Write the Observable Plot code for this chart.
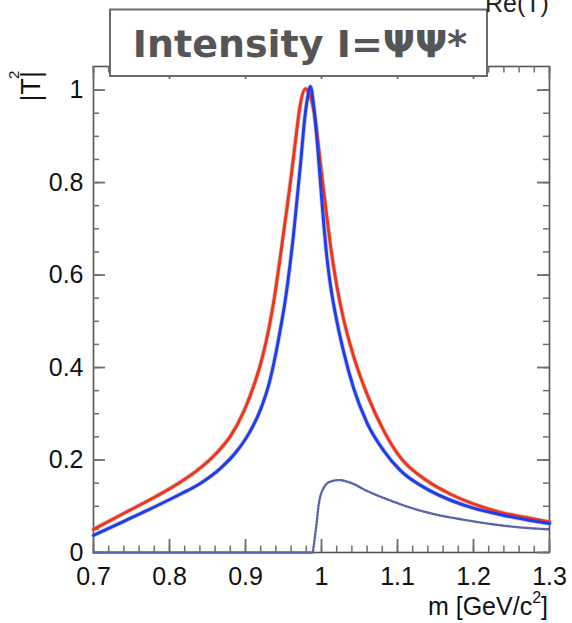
<!DOCTYPE html>
<html>
<head>
<meta charset="utf-8">
<script src="https://cdn.jsdelivr.net/npm/d3@7"></script>
<script src="https://cdn.jsdelivr.net/npm/@observablehq/plot@0.6"></script>
<style>
  html, body { margin: 0; padding: 0; background: white; overflow: hidden; }
  #chart { position: relative; width: 572px; height: 623px; }
</style>
</head>
<body>
<div id="chart"></div>
<script>
// Red curve |T|^2 (m in GeV/c^2)
const redM = [0.700, 0.742, 0.782, 0.814, 0.836, 0.863, 0.880, 0.898, 0.911, 0.922, 0.931, 0.937, 0.950, 0.961, 0.967, 0.972, 0.979, 0.983, 0.990, 0.9987, 1.0066, 1.013, 1.020, 1.029, 1.0425, 1.060, 1.082, 1.104, 1.139, 1.170, 1.200, 1.236, 1.271, 1.300];
const redV = [0.050, 0.0865, 0.121, 0.152, 0.177, 0.217, 0.251, 0.306, 0.361, 0.421, 0.486, 0.541, 0.690, 0.825, 0.907, 0.968, 1.003, 0.995, 0.955, 0.840, 0.732, 0.650, 0.578, 0.505, 0.423, 0.342, 0.263, 0.205, 0.155, 0.126, 0.105, 0.0865, 0.0750, 0.066];

// Blue curve
const blueM = [0.700, 0.742, 0.782, 0.814, 0.841, 0.867, 0.889, 0.904, 0.920, 0.931, 0.9395, 0.946, 0.952, 0.9636, 0.9724, 0.978, 0.981, 0.9855, 0.990, 0.995, 1.0017, 1.0065, 1.0118, 1.0206, 1.029, 1.0425, 1.060, 1.082, 1.104, 1.139, 1.170, 1.200, 1.236, 1.271, 1.300];
const blueV = [0.037, 0.069, 0.100, 0.126, 0.150, 0.182, 0.220, 0.256, 0.310, 0.365, 0.427, 0.484, 0.542, 0.694, 0.840, 0.940, 0.977, 1.008, 0.962, 0.876, 0.735, 0.648, 0.578, 0.497, 0.435, 0.354, 0.280, 0.220, 0.177, 0.137, 0.113, 0.096, 0.0815, 0.0705, 0.0625];

// Dotted curve (above KK threshold)
const dotM = [0.700, 0.9885, 0.9895, 0.9934, 0.9965, 1.003, 1.0118, 1.0228, 1.038, 1.060, 1.0865, 1.117, 1.148, 1.183, 1.218, 1.253, 1.300];
const dotV = [0.000, 0.000, 0.011, 0.061, 0.105, 0.140, 0.1535, 0.1565, 0.151, 0.133, 0.115, 0.097, 0.083, 0.072, 0.0627, 0.0556, 0.050];

// Tick labels
const xTicks = [0.7, 0.8, 0.9, 1.0, 1.1, 1.2, 1.3];
const yTicks = [0, 0.2, 0.4, 0.6, 0.8, 1.0];

const red = redM.map((m, i) => ({m, v: redV[i]}));
const blue = blueM.map((m, i) => ({m, v: blueV[i]}));
const dots = dotM.map((m, i) => ({m, v: dotV[i]}));

const xMinor = d3.range(0, 31).map(i => 0.7 + i * 0.02);
const yMinor = d3.range(0, 21).map(i => i * 0.05);

const W = 572, H = 623, ML = 93, MR = 23, MT = 66, MB = 71;
const X0 = 0.7, X1 = 1.3, Y0 = 0, Y1 = 1.051;
// tick lengths (pixels) converted to data units, so ticks point into the frame
const ux = (X1 - X0) / (W - ML - MR), uy = (Y1 - Y0) / (H - MT - MB);
const tickColor = "#6e6e6e";
const fmt = d => String(+(+d).toFixed(2));

const tickMarks = [];
for (const [vals, len, sw] of [[xMinor, 6.5, 1.5], [xTicks, 13, 1.8]]) {
  tickMarks.push(Plot.ruleX(vals, {x: d => d, y1: Y0, y2: Y0 + len * uy, stroke: tickColor, strokeWidth: sw}));
  tickMarks.push(Plot.ruleX(vals, {x: d => d, y1: Y1 - len * uy, y2: Y1, stroke: tickColor, strokeWidth: sw}));
}
for (const [vals, len, sw] of [[yMinor, 6, 1.5], [yTicks, 12, 1.8]]) {
  tickMarks.push(Plot.ruleY(vals, {y: d => d, x1: X0, x2: X0 + len * ux, stroke: tickColor, strokeWidth: sw}));
  tickMarks.push(Plot.ruleY(vals, {y: d => d, x1: X1 - len * ux, x2: X1, stroke: tickColor, strokeWidth: sw}));
}

const chart = Plot.plot({
  width: W,
  height: H,
  marginLeft: ML,
  marginRight: MR,
  marginTop: MT,
  marginBottom: MB,
  style: {fontFamily: "'Liberation Sans', Arial, sans-serif", fontSize: "25px", color: "#111", background: "white"},
  x: {domain: [X0, X1]},
  y: {domain: [Y0, Y1]},
  marks: [
    Plot.frame({stroke: "#555", strokeWidth: 1.6}),
    ...tickMarks,
    // curves
    Plot.lineY(red, {x: "m", y: "v", stroke: "#a8a8a8", strokeWidth: 4.6, strokeOpacity: 0.55, curve: "monotone-x"}),
    Plot.lineY(blue, {x: "m", y: "v", stroke: "#a8a8a8", strokeWidth: 4.6, strokeOpacity: 0.55, curve: "monotone-x"}),
    Plot.lineY(red, {x: "m", y: "v", stroke: "#f2341b", strokeWidth: 3, curve: "monotone-x"}),
    Plot.lineY(blue, {x: "m", y: "v", stroke: "#1e3cf0", strokeWidth: 3, curve: "monotone-x"}),
    Plot.lineY(dots, {x: "m", y: "v", stroke: "#5865a8", strokeWidth: 2.4, strokeDasharray: "1.6 1.6", curve: "monotone-x"}),
    // tick labels
    Plot.axisX(xTicks, {anchor: "bottom", tickSize: 0, tickPadding: 15, tickFormat: fmt, label: null, fill: "#111"}),
    Plot.axisY(yTicks, {anchor: "left", tickSize: 0, tickPadding: 10, tickFormat: fmt, label: null, fill: "#111"})
  ]
});

document.getElementById("chart").appendChild(chart);

const svg = d3.select(chart);
const sans = "'Liberation Sans', Arial, sans-serif";
// Title box
svg.append("rect").attr("x", 110).attr("y", 9.5).attr("width", 377).attr("height", 66.5)
  .attr("fill", "white").attr("stroke", "#6a6a6a").attr("stroke-width", 2);
svg.append("text").attr("x", 300).attr("y", 57).attr("text-anchor", "middle")
  .attr("font-family", "'DejaVu Sans', Verdana, sans-serif").attr("font-weight", "bold")
  .attr("font-size", 38).attr("fill", "#555").text("Intensity I=ΨΨ*");
// Label cut off at the top right, as in the reference
svg.append("text").attr("x", 485).attr("y", 12).attr("text-anchor", "start").attr("font-family", sans)
  .attr("font-size", 25).attr("fill", "#222").text("Re(T)");
// y label |T|^2 (ROOT-style superscript placed above the end of the text)
svg.append("text").attr("transform", "translate(39.5,71) rotate(-90)").attr("text-anchor", "end")
  .attr("font-family", sans).attr("font-size", 27).attr("fill", "#111").text("|T|");
svg.append("text").attr("transform", "translate(18.5,79) rotate(-90)").attr("text-anchor", "start")
  .attr("font-family", sans).attr("font-size", 15).attr("fill", "#111").text("2");
// x label
const xl = svg.append("text").attr("x", 548).attr("y", 615).attr("text-anchor", "end")
  .attr("font-family", sans).attr("font-size", 25).attr("fill", "#111");
xl.append("tspan").text("m [GeV/c");
xl.append("tspan").attr("dy", -12).attr("font-size", 16).text("2");
xl.append("tspan").attr("dy", 12).text("]");
</script>
</body>
</html>
